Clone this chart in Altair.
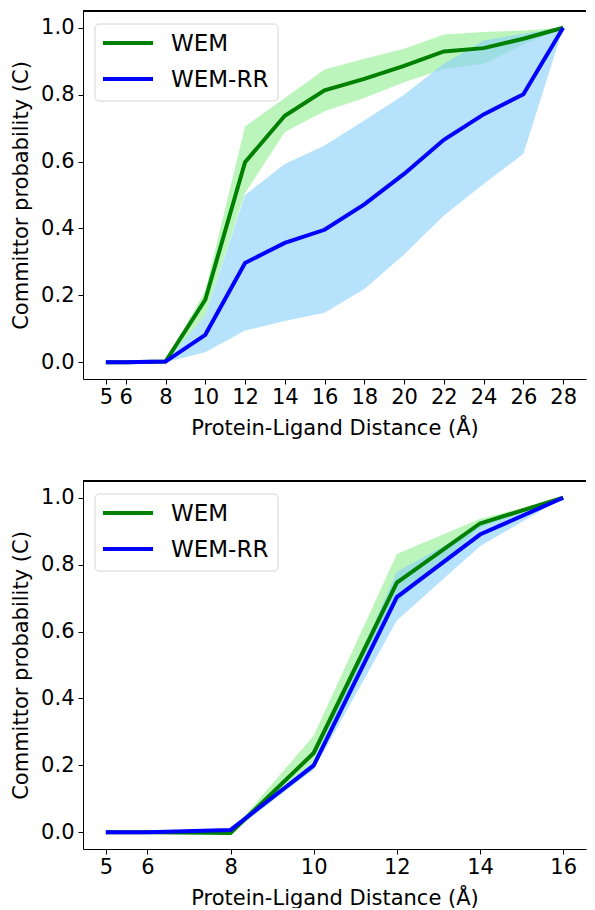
import altair as alt
import pandas as pd

# ---------------- data ----------------
series_names = ["WEM", "WEM-RR"]

x_top = [5, 6, 8, 10, 12, 14, 16, 18, 20, 22, 24, 26, 28]
wem_top = [0.0, 0.0, 0.002, 0.187, 0.598, 0.737, 0.813, 0.847, 0.886, 0.929, 0.939, 0.967, 1.0]
wem_top_lo = [0.0, 0.0, 0.0, 0.14, 0.505, 0.688, 0.75, 0.79, 0.837, 0.877, 0.892, 0.95, 1.0]
wem_top_hi = [0.0, 0.0, 0.002, 0.214, 0.705, 0.79, 0.875, 0.907, 0.937, 0.98, 0.987, 0.992, 1.0]
rr_top = [0.0, 0.0, 0.002, 0.082, 0.297, 0.357, 0.396, 0.472, 0.563, 0.665, 0.741, 0.801, 1.0]
rr_top_lo = [0.0, 0.0, 0.0, 0.03, 0.095, 0.123, 0.148, 0.219, 0.322, 0.439, 0.533, 0.623, 1.0]
rr_top_hi = [0.0, 0.0, 0.002, 0.14, 0.50, 0.593, 0.648, 0.723, 0.80, 0.892, 0.962, 0.982, 1.0]
ticks_top = [5, 6, 8, 10, 12, 14, 16, 18, 20, 22, 24, 26, 28]

x_bot = [5, 6, 8, 10, 12, 14, 16]
wem_bot = [0.0, 0.0, -0.002, 0.237, 0.746, 0.923, 1.0]
wem_bot_lo = [0.0, 0.0, -0.004, 0.19, 0.686, 0.91, 1.0]
wem_bot_hi = [0.0, 0.0, 0.0, 0.289, 0.832, 0.937, 1.0]
rr_bot = [0.0, 0.0, 0.007, 0.2, 0.703, 0.89, 1.0]
rr_bot_lo = [0.0, 0.0, 0.003, 0.187, 0.633, 0.855, 1.0]
rr_bot_hi = [0.0, 0.0, 0.01, 0.21, 0.779, 0.915, 1.0]
ticks_bot = [5, 6, 8, 10, 12, 14, 16]

y_ticks = [0.0, 0.2, 0.4, 0.6, 0.8, 1.0]

line_colors = ["#008000", "#0000ff"]
band_colors = ["#90ee90", "#87cefa"]
FONT = "DejaVu Sans"
FS = 21
LEG_FS = 23
W, H = 503, 368


def frame(xs, m, lo, hi, name):
    return pd.DataFrame({"x": xs, "y": m, "lo": lo, "hi": hi, "series": name, "band": name})


def legend_layers():
    box_df = pd.DataFrame({"entries": [len(series_names)]})
    layers = [alt.Chart(box_df).mark_rect(fill="white", stroke="#d4d4d4", strokeWidth=1,
                                          cornerRadius=4).encode(
        x=alt.value(12), x2=alt.value(195), y=alt.value(13), y2=alt.value(90))]
    for i, name in enumerate(series_names):
        ldf = pd.DataFrame({"label": [name]})
        yy = 32 + 36 * i
        layers.append(alt.Chart(ldf).mark_rule(color=line_colors[i], strokeWidth=4).encode(
            x=alt.value(20), x2=alt.value(70), y=alt.value(yy)))
        layers.append(alt.Chart(ldf).mark_text(align="left", baseline="middle", font=FONT,
                                               fontSize=LEG_FS, color="black").encode(
            text="label:N", x=alt.value(88), y=alt.value(yy + 1)))
    return layers


def panel(xs, w, wlo, whi, r, rlo, rhi, ticks, domain):
    df = pd.concat([frame(xs, w, wlo, whi, series_names[0]),
                    frame(xs, r, rlo, rhi, series_names[1])], ignore_index=True)
    xscale = alt.Scale(domain=domain, nice=False, zero=False)
    yscale = alt.Scale(domain=[-0.05, 1.05], nice=False, zero=False)
    xenc = alt.X("x:Q", scale=xscale,
                 axis=alt.Axis(values=ticks, format="d", title="Protein-Ligand Distance (Å)",
                               labelPadding=2, titlePadding=10))
    bands = alt.Chart(df).mark_area(fillOpacity=0.6, interpolate="linear").encode(
        x=xenc,
        y=alt.Y("lo:Q", scale=yscale,
                axis=alt.Axis(values=y_ticks, format=".1f", title="Committor probability (C)",
                              labelPadding=4, titlePadding=9)),
        y2="hi:Q",
        fill=alt.Fill("band:N", scale=alt.Scale(domain=series_names, range=band_colors), legend=None),
    )
    lines = alt.Chart(df).mark_line(strokeWidth=4, interpolate="linear").encode(
        x=xenc,
        y=alt.Y("y:Q", scale=yscale),
        color=alt.Color("series:N", scale=alt.Scale(domain=series_names, range=line_colors),
                        legend=None),
    )
    top_spine = alt.Chart(df).mark_rule(color="black", strokeWidth=1).encode(
        x=alt.value(0), x2=alt.value(W), y=alt.value(0)
    )
    return alt.layer(bands, lines, top_spine, *legend_layers()).properties(width=W, height=H)


top = panel(x_top, wem_top, wem_top_lo, wem_top_hi, rr_top, rr_top_lo, rr_top_hi,
            ticks_top, [3.85, 29.15])
bot = panel(x_bot, wem_bot, wem_bot_lo, wem_bot_hi, rr_bot, rr_bot_lo, rr_bot_hi,
            ticks_bot, [4.45, 16.55])

chart = alt.vconcat(top, bot, spacing=42).resolve_scale(
    x="independent"
).properties(
    padding={"left": 2, "top": 2, "right": 0, "bottom": 0}
).configure_axis(
    labelFont=FONT, titleFont=FONT, labelFontSize=FS, titleFontSize=FS,
    titleFontWeight="normal", labelColor="black", titleColor="black",
    domainColor="black", tickColor="black", tickSize=5, grid=False,
).configure_view(stroke=None)

chart.save("out.html", embed_options={"renderer": "svg", "actions": False})
